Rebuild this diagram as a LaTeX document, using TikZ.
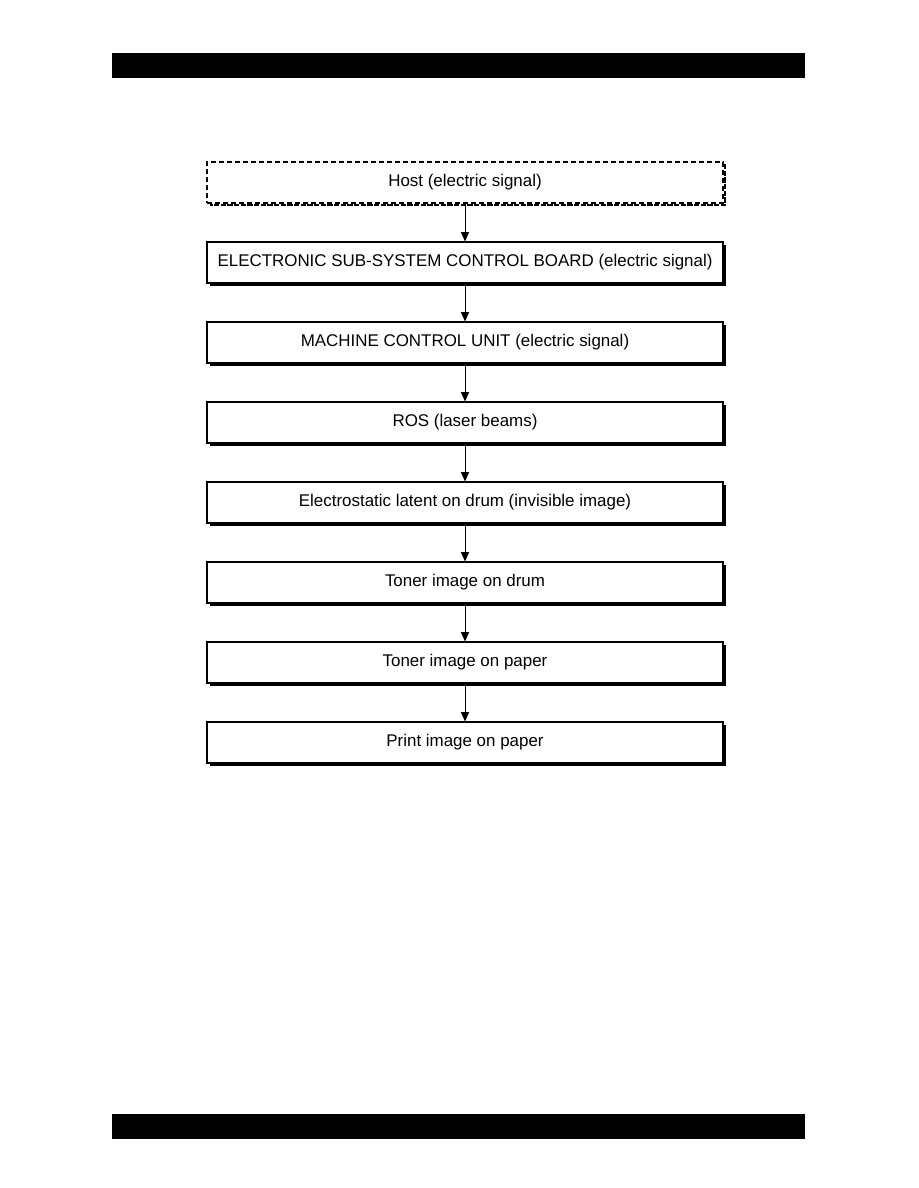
\documentclass[tikz,border=0pt]{standalone}
\usepackage{fontspec}
\setmainfont{Liberation Sans}
\usetikzlibrary{arrows.meta,shadows}
\begin{document}
\begin{tikzpicture}[x=0.75pt,y=-0.75pt,
  stagebox/.style={draw=black,line width=0.8pt,fill=white,minimum width=516*0.75pt,minimum height=41*0.75pt,inner sep=0pt,font=\fontsize{12.7}{14}\selectfont,
    drop shadow={shadow xshift=2.2pt,shadow yshift=-2.2pt,fill=black,opacity=1}},
  hostbox/.style={draw=black,line width=0.8pt,dash pattern=on 4pt off 2pt,fill=white,minimum width=516*0.75pt,minimum height=41*0.75pt,inner sep=0pt,font=\fontsize{12.7}{14}\selectfont},
  flow/.style={line width=0.7pt,-{Triangle[length=7pt,width=6pt]}},
  bar/.style={fill=black,draw=none}]
\useasboundingbox (0,0) rectangle (918,1188);
\fill[white] (0,0) rectangle (918,1188);
\fill[bar] (112,53) rectangle (805,78);
\fill[bar] (112,1114) rectangle (805,1139);
\draw[line width=2pt,dash pattern=on 4pt off 1pt] (725,164) -- (725,205) -- (210,205);
\node[hostbox] (n1) at (465,182.5) {Host (electric signal)};
\node[stagebox] (n2) at (465,262.5) {ELECTRONIC SUB-SYSTEM CONTROL BOARD (electric signal)};
\node[stagebox] (n3) at (465,342.5) {MACHINE CONTROL UNIT (electric signal)};
\node[stagebox] (n4) at (465,422.5) {ROS (laser beams)};
\node[stagebox] (n5) at (465,502.5) {Electrostatic latent on drum (invisible image)};
\node[stagebox] (n6) at (465,582.5) {Toner image on drum};
\node[stagebox] (n7) at (465,662.5) {Toner image on paper};
\node[stagebox] (n8) at (465,742.5) {Print image on paper};
\foreach \a/\b in {n1/n2,n2/n3,n3/n4,n4/n5,n5/n6,n6/n7,n7/n8}
  \draw[flow] (\a.south) -- (\b.north);
\end{tikzpicture}
\end{document}
